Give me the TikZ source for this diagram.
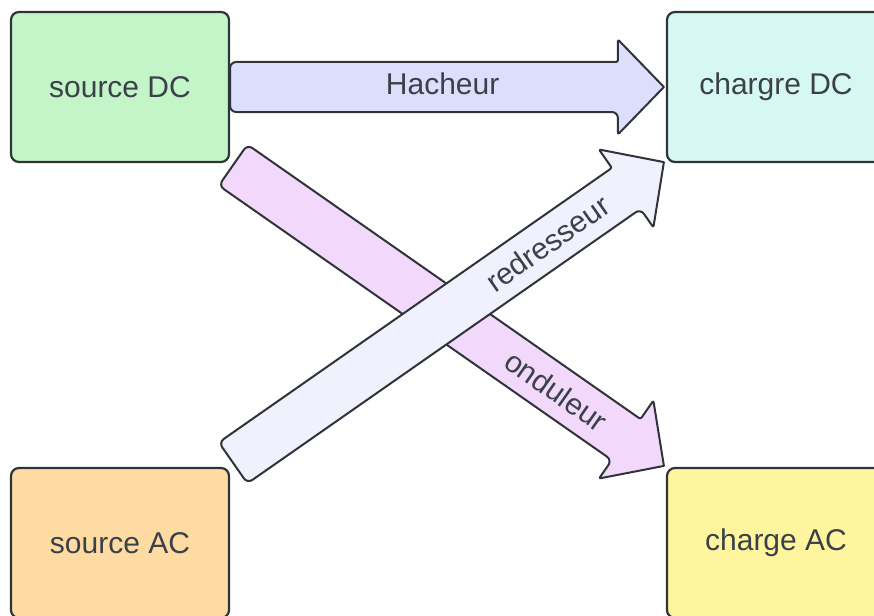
\documentclass[tikz,border=0pt]{standalone}
\usepackage{fontspec}
\setmainfont{Liberation Sans}
\usetikzlibrary{calc}

\definecolor{edge}{HTML}{2F3439}
\definecolor{txt}{HTML}{3B4149}
\definecolor{dcsrc}{HTML}{C3F5C8}
\definecolor{dcload}{HTML}{D6F8F2}
\definecolor{acsrc}{HTML}{FFDBA4}
\definecolor{acload}{HTML}{FFF59E}
\definecolor{hach}{HTML}{DDDDFC}
\definecolor{ondu}{HTML}{F2D9FC}
\definecolor{redr}{HTML}{F1F1FD}

\tikzset{
  box/.style={draw=edge, line width=2.2pt, rounded corners=8pt, text=txt,
    minimum width=218pt, minimum height=150pt, inner sep=0pt,
    font=\fontsize{30}{36}\selectfont},
  lbl/.style={text=txt, inner sep=0pt, font=\fontsize{30}{36}\selectfont}
}

% block arrow: tail, tip, fill
\newcommand{\blockarrow}[3]{%
  \coordinate (ba-h) at ($(#2)!46pt!(#1)$);
  \draw[edge, line width=2pt, fill=#3, line join=round, rounded corners=6pt]
    (#1) -- ($(#1)!25pt!-90:(#2)$)
    -- ($(ba-h)!25pt!-90:(#2)$) [rounded corners=2pt]-- ($(ba-h)!47.5pt!-90:(#2)$)
    [sharp corners]-- (#2) [rounded corners=2pt]-- ($(ba-h)!47.5pt!90:(#2)$)
    -- ($(ba-h)!25pt!90:(#2)$) [rounded corners=6pt]-- ($(#1)!25pt!90:(#2)$) -- cycle;
}

\begin{document}
\begin{tikzpicture}[x=1pt,y=-1pt]

\useasboundingbox (0,0) rectangle (874,615);
\clip (0,0) rectangle (874,615);

\node[box, fill=dcsrc] (srcdc) at (120,87) {source DC};
\node[box, fill=dcload] (chdc) at (776,87) {chargre DC};
\node[box, fill=acsrc] (srcac) at (120,543) {source AC};
\node[box, fill=acload] (chac) at (776,543) {charge AC};

\coordinate (hachT) at (srcdc.east);
\coordinate (hachH) at ($(chdc.west)+(-2,0)$);
\coordinate (onduT) at ($(srcdc.south east)+(3,2)$);
\coordinate (onduH) at ($(chac.north west)+(-2,-1)$);
\coordinate (redrT) at ($(srcac.north east)+(3,-4)$);
\coordinate (redrH) at ($(chdc.south west)+(-2,-1)$);

\blockarrow{onduT}{onduH}{ondu}
\node[lbl, rotate=-35] (ondulbl) at ($(onduT)!.75!(onduH)$) {onduleur};

\blockarrow{hachT}{hachH}{hach}
\node[lbl] (hachlbl) at ($(hachT)!.49!(hachH)+(0,-3)$) {Hacheur};

\blockarrow{redrT}{redrH}{redr}
\node[lbl, rotate=35] (redrlbl) at ($(redrT)!.73!(redrH)$) {redresseur};

\end{tikzpicture}
\end{document}
